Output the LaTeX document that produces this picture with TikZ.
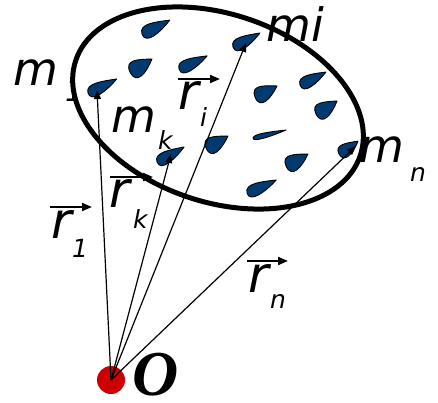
\documentclass[tikz,border=0pt]{standalone}
\usepackage{fontspec}
\setmainfont{DejaVu Sans}
\newfontfamily\serifO{Liberation Serif}
\usetikzlibrary{arrows.meta}
\definecolor{leafblue}{HTML}{003A70}
\definecolor{dotred}{HTML}{CC0000}
\tikzset{
 lbl/.style={inner sep=0pt, anchor=base west, font=\fontsize{46}{50}\selectfont\itshape},
 rlbl/.style={inner sep=0pt, anchor=base west, font=\fontsize{50}{54}\selectfont\itshape},
 sub/.style={inner sep=0pt, anchor=base west, font=\fontsize{25}{28}\selectfont\itshape},
 leafshape/.style={draw=black, line width=0.9pt, fill=leafblue, line join=round},
 vec/.style={line width=1.2pt, -{Triangle[length=9pt,width=7pt]}},
 overarrow/.style={line width=2pt, -{Triangle[length=10pt,width=8pt]}},
 body/.style={draw=black, line width=5pt, fill=white},
}
\newcommand\drawleaf[5]{%
 \path[leafshape, shift={(#1,#2)}, rotate=#3, xscale=#4, yscale=#5] (1,0) .. controls (0.55,-0.25) and (0.05,-0.55) .. (0,0) .. controls (-0.05,0.6) and (0.55,0.35) .. (1,0) -- cycle;}
\begin{document}
\begin{tikzpicture}[x=1pt,y=-1pt]
\useasboundingbox (0,0) rectangle (438,403);
% label partly hidden by the body
\node[lbl] (m1) at (13,86) {m};
\node[sub, font=\fontsize{30}{32}\selectfont\itshape] (m1s) at (65,102) {1};
% body
\draw[body, rotate around={-18.5:(218,108)}] (218,108) ellipse [x radius=150, y radius=94];
% particles
\drawleaf{142}{34}{26.6}{31}{19.5}
\drawleaf{130}{72}{30.6}{25.5}{25.5}
\drawleaf{179}{69}{25}{31}{18}
\drawleaf{88}{93}{26}{32}{18}
\drawleaf{233}{47}{27.4}{30.4}{18}
\drawleaf{300}{85}{26.6}{29}{18}
\drawleaf{255}{97}{26.6}{24.6}{24}
\drawleaf{316}{114}{31.8}{24.7}{24}
\drawleaf{206}{148}{28.6}{25}{24}
\drawleaf{253}{138}{13.6}{34}{7.5}
\drawleaf{157}{162}{29}{31}{18}
\drawleaf{339}{154}{34}{23}{19.5}
\drawleaf{286}{166}{28.6}{25}{24}
\drawleaf{247}{193}{24}{32}{18}
% origin
\coordinate (O) at (111,380);
\fill[dotred] (O) circle[radius=14];
\coordinate (t1) at (97,90);
\coordinate (tk) at (171,154);
\coordinate (ti) at (246,43);
\coordinate (tn) at (356,146);
\draw[vec] (O) -- (t1);
\draw[vec] (O) -- (tk);
\draw[vec] (O) -- (ti);
\draw[vec] (O) -- (tn);
% mass labels
\node[lbl] (mk) at (111,133) {m};
\node[sub] (mks) at (158,150) {k};
\node[lbl] (mi) at (266,42) {mi};
\node[lbl] (mn) at (359,163) {m};
\node[sub] (mns) at (410,182) {n};
% vector labels
\node[rlbl] (r1) at (51,238) {r};
\node[sub] (r1s) at (72,257) {1};
\coordinate (a1s) at (50,207); \coordinate (a1e) at (92,207);
\draw[overarrow] (a1s) -- (a1e);
\node[rlbl] (rk) at (109,207) {r};
\node[sub] (rks) at (133,228) {k};
\coordinate (aks) at (110,177); \coordinate (ake) at (153,177);
\draw[overarrow] (aks) -- (ake);
\node[rlbl] (ri) at (178,110) {r};
\node[sub] (ris) at (200,127) {i};
\coordinate (ais) at (178,79); \coordinate (aie) at (220,79);
\draw[overarrow] (ais) -- (aie);
\node[rlbl] (rn) at (248,292) {r};
\node[sub] (rns) at (270,308) {n};
\coordinate (ans) at (247,261); \coordinate (ane) at (288,261);
\draw[overarrow] (ans) -- (ane);
% origin label
\node[inner sep=0pt, anchor=base west, text depth=0pt, font=\serifO\fontsize{64}{68}\selectfont\bfseries\itshape] (Olabel) at (132,395) {O};
\end{tikzpicture}
\end{document}
